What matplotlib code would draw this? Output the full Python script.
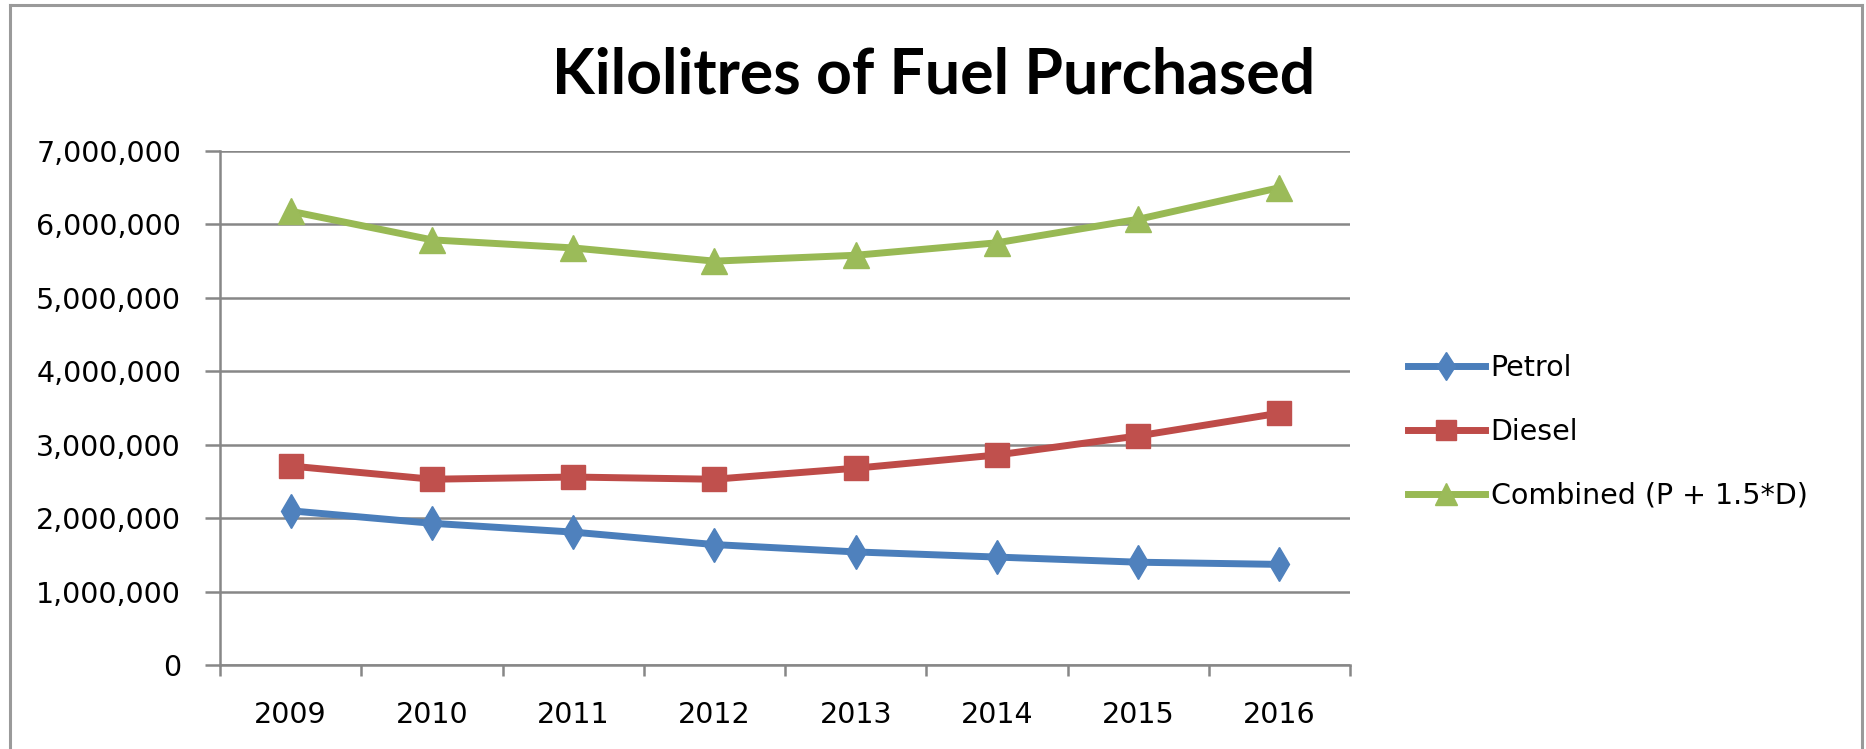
import matplotlib
matplotlib.use("Agg")
import matplotlib.pyplot as plt
from matplotlib.lines import Line2D
from matplotlib.ticker import FuncFormatter, FixedLocator

years = ["2009", "2010", "2011", "2012", "2013", "2014", "2015", "2016"]
petrol = [2100000, 1930000, 1810000, 1640000, 1540000, 1470000, 1400000, 1370000]
diesel = [2710000, 2530000, 2560000, 2530000, 2680000, 2860000, 3120000, 3430000]
combined = [6180000, 5790000, 5680000, 5500000, 5580000, 5750000, 6070000, 6500000]
series_names = ["Petrol", "Diesel", "Combined (P + 1.5*D)"]

W, H = 1866, 749
fig = plt.figure(figsize=(W / 100, H / 100), dpi=100)
fig.patch.set_facecolor("white")

ax = fig.add_axes([220 / W, 1 - 665 / H, (1350 - 220) / W, (665 - 151) / H])

x = list(range(len(years)))
grid_c = "#878787"
ax.plot(x, petrol, color="#4A7EBB", lw=5, marker="d", ms=17,
        mfc="#4F81BD", mec="#4F81BD", label=series_names[0], zorder=3)
ax.plot(x, diesel, color="#BE4B48", lw=5, marker="s", ms=17,
        mfc="#C0504D", mec="#C0504D", label=series_names[1], zorder=3)
ax.plot(x, combined, color="#98B954", lw=5, marker="^", ms=19,
        mfc="#9BBB59", mec="#9BBB59", label=series_names[2], zorder=3)

ax.set_xlim(-0.5, len(years) - 0.5)
ax.set_ylim(0, 7000000)
ax.set_yticks(range(0, 7000001, 1000000))
ax.yaxis.set_major_formatter(FuncFormatter(lambda v, p: f"{int(v):,}"))
ax.set_xticks(x)
ax.set_xticklabels(years)
ax.xaxis.set_minor_locator(FixedLocator([i - 0.5 for i in range(len(years) + 1)]))

ax.grid(axis="y", color=grid_c, lw=1.8, zorder=1)
ax.set_axisbelow(True)
for s in ["top", "right"]:
    ax.spines[s].set_visible(False)
for s in ["left", "bottom"]:
    ax.spines[s].set_color(grid_c)
    ax.spines[s].set_linewidth(1.8)

ax.tick_params(axis="y", which="major", direction="out", length=11, width=1.8,
               color=grid_c, labelsize=20.5, pad=17, labelcolor="#000000")
ax.tick_params(axis="x", which="major", length=0, labelsize=20.5, pad=26,
               labelcolor="#000000")
ax.tick_params(axis="x", which="minor", direction="out", length=8, width=1.8,
               color=grid_c)

fig.text(934 / W, 1 - 76 / H, "Kilolitres of Fuel Purchased", ha="center", va="center",
         fontsize=45, fontweight="bold", family=["Lato", "DejaVu Sans"], color="#000000")

leg = fig.legend(loc="center left", bbox_to_anchor=(1408 / W, 1 - 432 / H), frameon=False,
                 fontsize=20.5, handlelength=2.7, handletextpad=0.2, labelspacing=1.25,
                 borderpad=0, borderaxespad=0, markerscale=0.85)
for t in leg.get_texts():
    t.set_color("#000000")

fc = "#9a9a9a"
fig.add_artist(Line2D([9.5 / W, 9.5 / W], [0, 1 - 5 / H], color=fc, lw=2.2, transform=fig.transFigure))
fig.add_artist(Line2D([9.5 / W, 1861.5 / W], [1 - 5 / H, 1 - 5 / H], color=fc, lw=2.2, transform=fig.transFigure))
fig.add_artist(Line2D([1861.5 / W, 1861.5 / W], [0, 1 - 5 / H], color=fc, lw=2.2, transform=fig.transFigure))

fig.savefig("out.png", dpi=100, facecolor="white")
